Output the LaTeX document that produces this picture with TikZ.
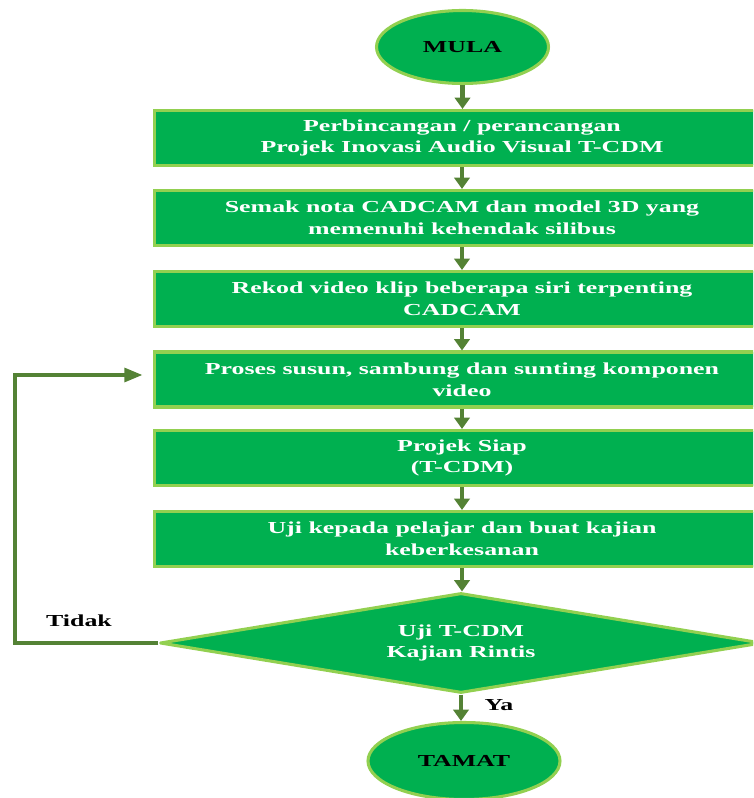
\documentclass[tikz,border=0pt]{standalone}
\usepackage{fontspec}
\setmainfont{Liberation Serif}[FakeStretch=1.54]
\usetikzlibrary{shapes.geometric,arrows.meta}
\definecolor{boxfill}{HTML}{00B050}
\definecolor{boxedge}{HTML}{92D050}
\definecolor{flow}{HTML}{548235}

\begin{document}
\begin{tikzpicture}[x=0.75pt,y=-0.75pt,
  every node/.style={font=\fontsize{12.6}{16.2}\selectfont\bfseries},
  stepbox/.style={rectangle, fill=boxfill, draw=boxedge, line width=2.3pt,
    minimum width=615*0.75pt, minimum height=55*0.75pt, inner sep=0pt,
    text=white, align=center},
  terminal/.style={ellipse, fill=boxfill, draw=boxedge, line width=2.3pt,
    inner sep=0pt, text=black},
  decision/.style={diamond, aspect=6, fill=boxfill, draw=boxedge, line width=2.3pt,
    line join=round, inner sep=0pt, text=white, align=center,
    minimum width=602*0.75pt, minimum height=100*0.75pt},
  flowarrow/.style={draw=flow, line width=3.6pt,
    -{Triangle[width=11.5pt,length=8.5pt]}},
  backarrow/.style={draw=flow, line width=3.6pt,
    -{Triangle[width=10pt,length=14pt]}},
  answer/.style={text=black}
]
\useasboundingbox (0,0) rectangle (753,798);
\clip (0,0) rectangle (753,798);

% start and end terminals
\node[terminal, minimum width=172*0.75pt, minimum height=73*0.75pt] (mula) at (462.5,47) {MULA};
\node[terminal, minimum width=192*0.75pt, minimum height=77*0.75pt] (tamat) at (464,761) {TAMAT};

% process steps
\node[stepbox] (s1) at (462,138) {Perbincangan / perancangan\\Projek Inovasi Audio Visual T-CDM};
\node[stepbox] (s2) at (462,218) {Semak nota CADCAM dan model 3D yang\\memenuhi kehendak silibus};
\node[stepbox] (s3) at (462,299) {Rekod video klip beberapa siri terpenting\\CADCAM};
\node[stepbox] (s4) at (462,379.5) {Proses susun, sambung dan sunting komponen\\video};
\node[stepbox] (s5) at (462,458) {Projek Siap\\(T-CDM)};
\node[stepbox] (s6) at (462,539) {Uji kepada pelajar dan buat kajian\\keberkesanan};

% decision
\node[decision] (dec) at (461,643) {Uji T-CDM\\Kajian Rintis};

% main flow
\draw[flowarrow] (mula.south) -- (mula.south |- s1.north);
\draw[flowarrow] (s1.south) -- (s2.north);
\draw[flowarrow] (s2.south) -- (s3.north);
\draw[flowarrow] (s3.south) -- (s4.north);
\draw[flowarrow] (s4.south) -- (s5.north);
\draw[flowarrow] (s5.south) -- (s6.north);
\draw[flowarrow] (s6.south) -- (s6.south |- dec.north);
\draw[flowarrow] (dec.south) -- (dec.south |- tamat.north);

% loop back when the test fails
\coordinate (loopcorner) at (15,375);
\coordinate (loopend) at (143,375);
\draw[backarrow] (dec.west) -| (loopcorner) -- (loopend);

% branch labels
\node[answer] (tidak) at (79,621) {Tidak};
\node[answer] (ya) at (499,705) {Ya};
\end{tikzpicture}
\end{document}
